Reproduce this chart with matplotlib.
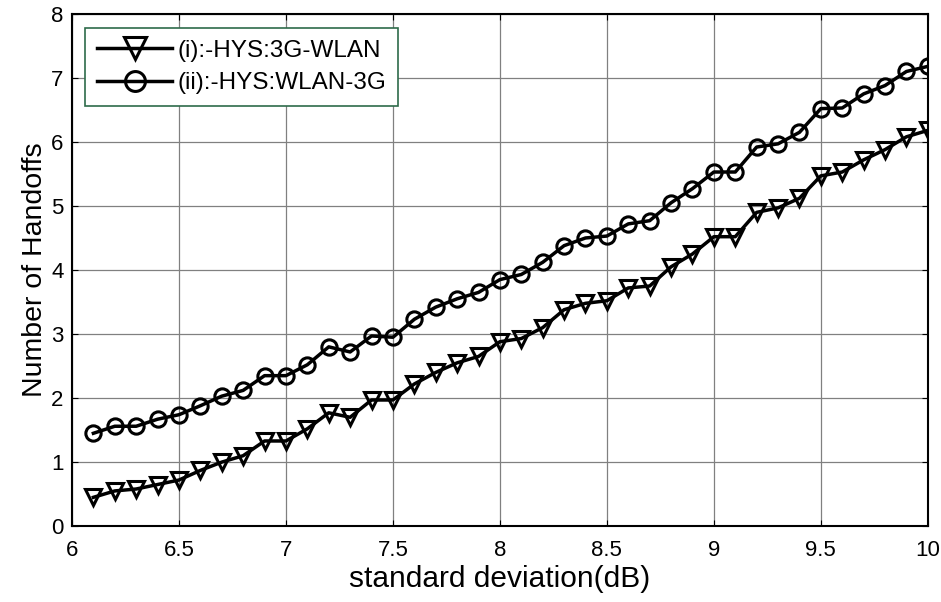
import matplotlib
matplotlib.use("Agg")
import matplotlib.pyplot as plt
import numpy as np

x_vals = [6.1, 6.2, 6.3, 6.4, 6.5, 6.6, 6.7, 6.8, 6.9, 7.0,
          7.1, 7.2, 7.3, 7.4, 7.5, 7.6, 7.7, 7.8, 7.9, 8.0,
          8.1, 8.2, 8.3, 8.4, 8.5, 8.6, 8.7, 8.8, 8.9, 9.0,
          9.1, 9.2, 9.3, 9.4, 9.5, 9.6, 9.7, 9.8, 9.9, 10.0]

hys_3g_wlan = [0.45, 0.55, 0.58, 0.65, 0.72, 0.87, 1.00, 1.10, 1.33, 1.33,
               1.52, 1.77, 1.70, 1.97, 1.97, 2.22, 2.40, 2.55, 2.65, 2.88,
               2.93, 3.10, 3.38, 3.48, 3.52, 3.72, 3.75, 4.05, 4.25, 4.52,
               4.52, 4.90, 4.97, 5.12, 5.47, 5.53, 5.72, 5.88, 6.08, 6.18]

hys_wlan_3g = [1.45, 1.56, 1.56, 1.67, 1.74, 1.88, 2.03, 2.12, 2.35, 2.35,
               2.52, 2.80, 2.72, 2.97, 2.95, 3.23, 3.42, 3.55, 3.65, 3.85,
               3.93, 4.12, 4.38, 4.50, 4.53, 4.72, 4.77, 5.05, 5.27, 5.53,
               5.53, 5.92, 5.97, 6.15, 6.52, 6.53, 6.75, 6.88, 7.10, 7.18]

series_labels = ["(i):-HYS:3G-WLAN", "(ii):-HYS:WLAN-3G"]
x_ticks = [6, 6.5, 7, 7.5, 8, 8.5, 9, 9.5, 10]
x_tick_labels = ["6", "6.5", "7", "7.5", "8", "8.5", "9", "9.5", "10"]
y_ticks = [0, 1, 2, 3, 4, 5, 6, 7, 8]

plt.rcParams['font.family'] = ['Liberation Sans', 'DejaVu Sans']

fig = plt.figure(figsize=(9.41, 6.02), dpi=100)
ax = fig.add_axes([0.0765, 0.126, 0.9095, 0.851])

ax.plot(x_vals, hys_3g_wlan, color='black', linewidth=2.5, marker='v',
        markersize=12, markerfacecolor='none', markeredgewidth=2.2,
        label=series_labels[0])
ax.plot(x_vals, hys_wlan_3g, color='black', linewidth=2.5, marker='o',
        markersize=11, markerfacecolor='none', markeredgewidth=2.2,
        label=series_labels[1])

ax.set_xlim(6, 10)
ax.set_ylim(0, 8)
ax.set_xticks(x_ticks)
ax.set_xticklabels(x_tick_labels)
ax.set_yticks(y_ticks)
ax.tick_params(direction='in', length=4, labelsize=16, top=True, right=True)
ax.tick_params(axis='x', pad=10)
ax.tick_params(axis='y', pad=6)
ax.grid(True, color='#808080', linewidth=0.9)
for s in ax.spines.values():
    s.set_linewidth(1.5)

ax.set_xlabel("standard deviation(dB)", fontsize=21.5, labelpad=3)
ax.set_ylabel("Number of Handoffs", fontsize=20.5, labelpad=2)

leg = ax.legend(loc='upper left', bbox_to_anchor=(0.015, 0.973), fontsize=17.5,
                fancybox=False, framealpha=1, edgecolor='#2e6b4a',
                handlelength=3.1, borderpad=0.5, labelspacing=0.42,
                handletextpad=0.2, borderaxespad=0, markerscale=1.3)
leg.get_frame().set_linewidth(1.2)

fig.savefig("out.png", dpi=100)
